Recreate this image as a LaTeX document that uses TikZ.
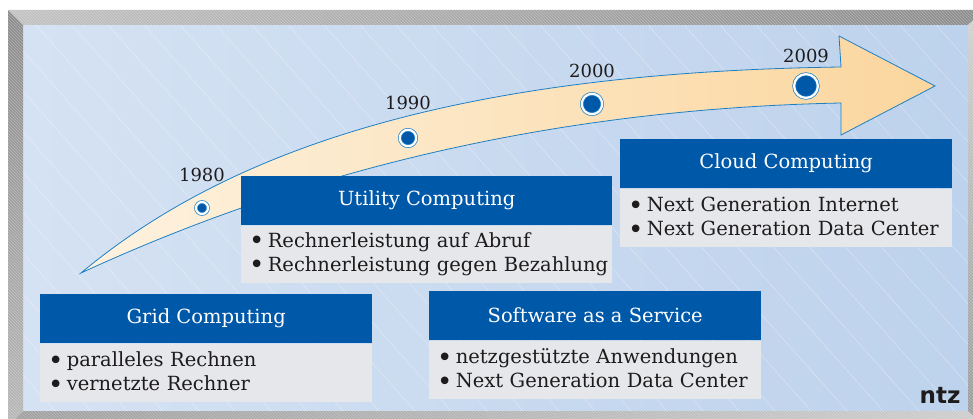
\documentclass[tikz,border=0pt]{standalone}
\usepackage{fontspec}
\setmainfont{DejaVu Serif}
\newfontfamily\logofont{DejaVu Sans}
\usetikzlibrary{positioning, patterns}

\definecolor{ntzblue}{RGB}{0,88,168}
\definecolor{edgeblue}{RGB}{30,127,196}
\definecolor{boxgray}{RGB}{229,231,234}
\definecolor{inktext}{RGB}{30,27,28}
\definecolor{bgleft}{RGB}{213,226,243}
\definecolor{bgright}{RGB}{189,210,236}
\definecolor{arrowleft}{RGB}{253,242,224}
\definecolor{arrowright}{RGB}{251,214,158}

\newcommand{\bul}[1]{\mbox{{\fontsize{26}{24}\selectfont\raisebox{-0.1em}{\textbullet}}\,#1}}

\tikzset{
  head/.style={rectangle, fill=ntzblue, text=white, inner sep=0pt,
    font=\fontsize{19.5}{24}\selectfont},
  body/.style={rectangle, fill=boxgray, text=inktext, inner xsep=8pt, inner ysep=0pt,
    align=left, font=\fontsize{19.5}{24}\selectfont},
  yeardot/.style={circle, fill=ntzblue, draw=edgeblue, line width=0.7pt,
    double=white, double distance=2.2pt, inner sep=0pt},
  yearlabel/.style={inner sep=0pt, text=inktext, font=\fontsize{18}{18}\selectfont},
  hatch/.style={pattern=north west lines, pattern color=white, opacity=0.3},
}

\begin{document}
\begin{tikzpicture}[x=1pt, y=-1pt]
    \useasboundingbox (0,0) rectangle (973,419);
    \clip (0,0) rectangle (973,419);
    \fill[white] (0,0) rectangle (973,419);

    % panel and frame
    \shade[left color=bgleft, right color=bgright] (23,25) rectangle (968,411);
    \begin{scope}
        \clip (23,25) rectangle (968,411);
        \foreach \i in {-10,...,27}
            \draw[white, opacity=0.45, line width=0.4pt] (\i*36,25) -- ++(344,387);
    \end{scope}
    \shade[left color=black!24, right color=black!45] (8,10) -- (985,10) -- (968,25) -- (23,25) -- cycle;
    \shade[top color=black!45, bottom color=black!28] (8,10) -- (23,25) -- (23,411) -- (8,426) -- cycle;
    \shade[left color=black!38, right color=black!20] (8,426) -- (23,411) -- (968,411) -- (985,426) -- cycle;
    \shade[top color=black!18, bottom color=black!40] (985,10) -- (968,25) -- (968,411) -- (985,426) -- cycle;
    \fill[hatch] (8,10) -- (985,10) -- (968,25) -- (23,25) -- cycle;
    \fill[hatch] (8,10) -- (23,25) -- (23,411) -- (8,426) -- cycle;
    \fill[hatch] (8,426) -- (23,411) -- (968,411) -- (985,426) -- cycle;
    \fill[hatch] (985,10) -- (968,25) -- (968,411) -- (985,426) -- cycle;

    % time arrow
    \coordinate (tail) at (81,273);
    \coordinate (neckup) at (841,67);
    \coordinate (necklow) at (841,103);
    \coordinate (tip) at (935,86);
    \draw[edgeblue, line width=0.8pt, line join=miter, left color=arrowleft, right color=arrowright]
        (tail) .. controls (240,140) and (480,72) .. (neckup) -- (839,36) -- (tip)
        -- (841,135) -- (necklow) .. controls (500,110) and (250,195) .. (tail) -- cycle;

    \node[yeardot, minimum size=12pt] (d1980) at (202,208) {};
    \node[yeardot, minimum size=16.4pt] (d1990) at (408,138) {};
    \node[yeardot, minimum size=20.4pt] (d2000) at (592,104) {};
    \node[yeardot, minimum size=23.8pt] (d2009) at (806,86) {};
    \node[yearlabel] (y1980) at ([yshift=33pt] d1980) {1980};
    \node[yearlabel] (y1990) at ([yshift=35pt] d1990) {1990};
    \node[yearlabel] (y2000) at ([yshift=33pt] d2000) {2000};
    \node[yearlabel] (y2009) at ([yshift=30pt] d2009) {2009};

    % boxes
    \node[head, anchor=north west, minimum width=332pt, minimum height=49pt] (gridhead) at (40,294) {Grid Computing};
    \node[body, below=0pt of gridhead, text width=316pt, minimum height=58pt] (gridbody)
        {\bul{paralleles Rechnen}\\\bul{vernetzte Rechner}};

    \node[head, anchor=north west, minimum width=371pt, minimum height=49pt] (utilhead) at (241,176) {Utility Computing};
    \node[body, below=0pt of utilhead, text width=355pt, minimum height=57pt] (utilbody)
        {\bul{Rechnerleistung auf Abruf}\\\bul{Rechnerleistung gegen Bezahlung}};

    \node[head, anchor=north west, minimum width=332pt, minimum height=49pt] (saashead) at (429,291) {Software as a Service};
    \node[body, below=0pt of saashead, text width=316pt, minimum height=58pt] (saasbody)
        {\bul{netzgestützte Anwendungen}\\\bul{Next Generation Data Center}};

    \node[head, anchor=north west, minimum width=332pt, minimum height=49pt] (cloudhead) at (620,139) {Cloud Computing};
    \node[body, below=0pt of cloudhead, text width=316pt, minimum height=58pt] (cloudbody)
        {\bul{Next Generation Internet}\\\bul{Next Generation Data Center}};

    \node[inner sep=0pt, text=inktext, font=\logofont\bfseries\fontsize{23}{23}\selectfont] (logo) at (940,395) {ntz};
\end{tikzpicture}
\end{document}
